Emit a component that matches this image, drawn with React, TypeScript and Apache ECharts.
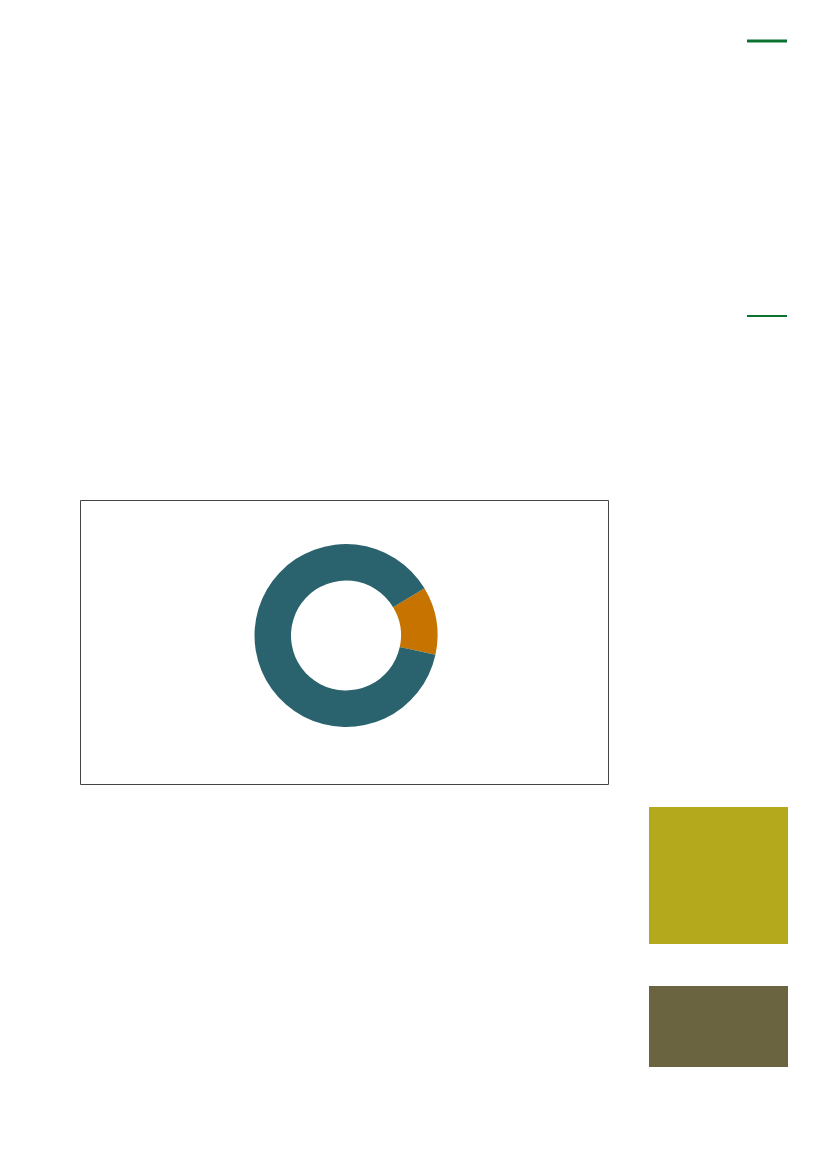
import { useEffect, useRef } from "react";
import * as echarts from "echarts";

// slice values (percent of the whole)
const sliceNames = ["Part A", "Part B"];
const sliceValues = [12, 88];

const PALETTE = ["#C67300", "#2A636E"];

export default function App() {
  const chartRef = useRef<HTMLDivElement>(null);

  useEffect(() => {
    if (!chartRef.current) return;
    const chart = echarts.init(chartRef.current, null, { renderer: "svg" });

    const option: echarts.EChartsOption = {
      animation: false,
      backgroundColor: "#ffffff",
      graphic: [
        // green rules at the top right
        {
          type: "line",
          shape: { x1: 747, y1: 41, x2: 787, y2: 41 },
          style: { stroke: "#0B7232", lineWidth: 3 },
        },
        {
          type: "line",
          shape: { x1: 747, y1: 316, x2: 787, y2: 316 },
          style: { stroke: "#0B7232", lineWidth: 2 },
        },
        // chart frame
        {
          type: "rect",
          shape: { x: 80.5, y: 500.5, width: 528, height: 284 },
          style: { fill: "none", stroke: "#444444", lineWidth: 1 },
          z: 0,
        },
        // colour blocks on the right
        {
          type: "rect",
          shape: { x: 649, y: 807, width: 139, height: 137 },
          style: { fill: "#B4A91D" },
        },
        {
          type: "rect",
          shape: { x: 649, y: 986, width: 139, height: 81 },
          style: { fill: "#6A6540" },
        },
      ],
      series: [
        {
          type: "pie",
          center: [346, 635.5],
          radius: [55, 91.5],
          startAngle: 31,
          clockwise: true,
          label: { show: false },
          labelLine: { show: false },
          emphasis: { disabled: true },
          itemStyle: { borderWidth: 0 },
          data: sliceNames.map((name, i) => ({
            name,
            value: sliceValues[i],
            itemStyle: { color: PALETTE[i] },
          })),
        },
      ],
    };

    chart.setOption(option);

    return () => {
      chart.dispose();
    };
  }, []);

  return (
    <div
      ref={chartRef}
      style={{ position: "absolute", left: 0, top: 0, width: 827, height: 1169 }}
    />
  );
}
